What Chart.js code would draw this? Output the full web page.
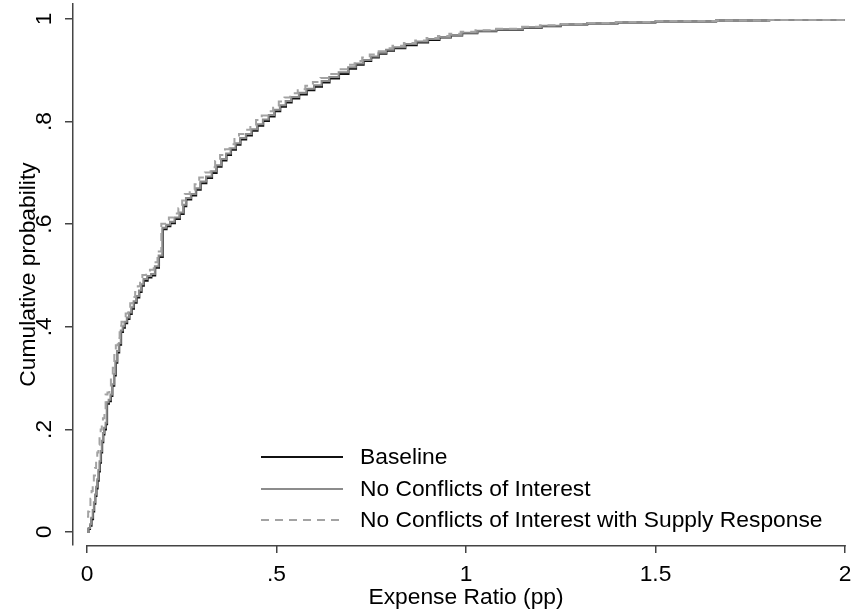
<!DOCTYPE html>
<html><head><meta charset="utf-8">
<script src="https://cdn.jsdelivr.net/npm/chart.js@4.4.1/dist/chart.umd.min.js"></script>
<style>html,body{margin:0;padding:0;background:#fff}canvas{display:block}</style>
</head><body>
<canvas id="c" width="855" height="611"></canvas>
<script>
const seriesLabels = ["Baseline", "No Conflicts of Interest", "No Conflicts of Interest with Supply Response"];
const xTicks = [0, 0.5, 1, 1.5, 2];
const yTicks = [0, 0.2, 0.4, 0.6, 0.8, 1];

const baselineX = [0,0.004,0.008,0.012,0.016,0.019,0.022,0.025,0.028,0.031,0.034,0.037,0.04,0.043,0.046,0.05,0.053,0.058,0.063,0.067,0.072,0.076,0.08,0.085,0.09,0.095,0.1,0.106,0.112,0.118,0.124,0.131,0.138,0.144,0.15,0.16,0.17,0.18,0.19,0.2,0.21,0.22,0.232,0.245,0.255,0.262,0.275,0.288,0.3,0.315,0.33,0.342,0.355,0.368,0.38,0.393,0.405,0.42,0.435,0.45,0.465,0.48,0.495,0.51,0.525,0.54,0.56,0.58,0.6,0.62,0.64,0.665,0.69,0.71,0.73,0.75,0.77,0.79,0.81,0.84,0.87,0.9,0.93,0.96,0.99,1.03,1.08,1.15,1.2,1.25,1.32,1.4,1.5,1.66,1.8,2.0];
const baselineY = [0,0.006,0.012,0.025,0.04,0.055,0.07,0.085,0.1,0.118,0.135,0.155,0.175,0.19,0.2,0.21,0.25,0.255,0.265,0.285,0.305,0.33,0.35,0.365,0.39,0.398,0.407,0.415,0.425,0.435,0.447,0.457,0.468,0.48,0.49,0.496,0.5,0.515,0.536,0.59,0.596,0.602,0.61,0.62,0.635,0.648,0.656,0.667,0.68,0.69,0.7,0.712,0.724,0.735,0.745,0.755,0.765,0.773,0.782,0.792,0.801,0.81,0.82,0.829,0.837,0.845,0.853,0.861,0.868,0.876,0.884,0.893,0.903,0.911,0.918,0.925,0.932,0.938,0.943,0.949,0.954,0.959,0.964,0.968,0.972,0.976,0.979,0.983,0.986,0.989,0.991,0.993,0.995,0.997,0.998,1.0];

const noConflictX = [0,0.004,0.008,0.011,0.015,0.018,0.021,0.024,0.027,0.03,0.033,0.036,0.039,0.042,0.045,0.049,0.052,0.057,0.062,0.066,0.071,0.075,0.079,0.084,0.089,0.094,0.099,0.105,0.111,0.117,0.123,0.13,0.137,0.143,0.149,0.159,0.169,0.179,0.189,0.199,0.209,0.219,0.231,0.244,0.254,0.261,0.274,0.287,0.299,0.314,0.329,0.341,0.354,0.367,0.379,0.392,0.404,0.419,0.434,0.449,0.464,0.479,0.494,0.509,0.524,0.539,0.559,0.579,0.599,0.619,0.639,0.664,0.689,0.709,0.729,0.749,0.769,0.789,0.809,0.839,0.869,0.899,0.929,0.959,0.989,1.03,1.08,1.15,1.2,1.25,1.32,1.4,1.5,1.66,1.8,2.0];
const noConflictY = [0,0.008,0.015,0.028,0.043,0.058,0.073,0.088,0.103,0.121,0.138,0.158,0.178,0.193,0.203,0.213,0.253,0.258,0.268,0.288,0.308,0.333,0.353,0.368,0.393,0.401,0.41,0.418,0.428,0.438,0.45,0.46,0.471,0.483,0.493,0.499,0.503,0.518,0.539,0.593,0.599,0.605,0.613,0.623,0.638,0.651,0.659,0.67,0.683,0.693,0.703,0.715,0.727,0.738,0.748,0.758,0.768,0.776,0.785,0.795,0.804,0.813,0.823,0.832,0.84,0.848,0.856,0.864,0.871,0.879,0.887,0.896,0.906,0.913,0.92,0.927,0.934,0.94,0.945,0.951,0.956,0.961,0.965,0.969,0.973,0.977,0.98,0.984,0.987,0.99,0.992,0.994,0.995,0.997,0.998,1.0];

const supplyX = [0,0.003,0.006,0.009,0.012,0.015,0.018,0.021,0.024,0.027,0.03,0.033,0.036,0.039,0.042,0.046,0.049,0.054,0.059,0.063,0.068,0.072,0.076,0.081,0.086,0.091,0.096,0.102,0.108,0.114,0.12,0.127,0.134,0.14,0.146,0.156,0.166,0.176,0.186,0.196,0.206,0.216,0.228,0.241,0.251,0.258,0.271,0.284,0.296,0.311,0.326,0.338,0.351,0.364,0.376,0.389,0.401,0.416,0.431,0.446,0.461,0.476,0.491,0.506,0.521,0.536,0.556,0.576,0.596,0.616,0.636,0.661,0.686,0.706,0.726,0.746,0.766,0.786,0.806,0.836,0.866,0.896,0.926,0.956,0.986,1.025,1.075,1.145,1.195,1.245,1.315,1.395,1.495,1.66,1.8,2.0];
const supplyY = [0.03,0.04,0.05,0.065,0.08,0.095,0.11,0.125,0.14,0.155,0.17,0.185,0.2,0.212,0.222,0.232,0.268,0.272,0.282,0.3,0.32,0.345,0.364,0.378,0.402,0.41,0.418,0.426,0.436,0.446,0.458,0.468,0.479,0.491,0.501,0.507,0.511,0.526,0.547,0.601,0.607,0.613,0.621,0.631,0.646,0.659,0.667,0.678,0.691,0.701,0.711,0.723,0.735,0.746,0.756,0.766,0.776,0.784,0.793,0.803,0.812,0.82,0.83,0.839,0.847,0.855,0.863,0.87,0.877,0.885,0.893,0.902,0.911,0.918,0.925,0.931,0.937,0.943,0.948,0.953,0.958,0.963,0.967,0.971,0.975,0.978,0.981,0.985,0.988,0.99,0.992,0.994,0.996,0.997,0.998,1.0];

const toPts = (xs, ys) => xs.map((x, i) => ({x: x, y: ys[i]}));
const FONT = "'Liberation Sans', Arial, Helvetica, sans-serif";
const FSIZE = 22.8;
const AXIS_COLOR = '#444';

function fmt(v) {
  if (v === 0) return '0';
  const s = String(+v.toFixed(2));
  return s.startsWith('0.') ? s.slice(1) : s;
}

const stataLegend = {
  id: 'stataLegend',
  afterDraw(chart) {
    const ctx = chart.ctx;
    const rows = [457, 489, 520];
    chart.data.datasets.forEach((ds, i) => {
      ctx.save();
      ctx.strokeStyle = ds.borderColor;
      ctx.lineWidth = ds.borderWidth;
      ctx.setLineDash(ds.borderDash || []);
      ctx.beginPath();
      ctx.moveTo(261, rows[i]);
      ctx.lineTo(343, rows[i]);
      ctx.stroke();
      ctx.setLineDash([]);
      ctx.fillStyle = '#000';
      ctx.font = FSIZE + 'px ' + FONT;
      ctx.textBaseline = 'middle';
      ctx.textAlign = 'left';
      ctx.fillText(ds.label, 360, rows[i] + 1);
      ctx.restore();
    });
  }
};

const xAxisLine = {
  id: 'xAxisLine',
  afterLayout(chart) {
    // centre the x-axis title on the 0..2 axis span
    const xs = chart.scales.x;
    xs.left = xs.getPixelForValue(xTicks[0]);
  },
  afterDraw(chart) {
    const xs = chart.scales.x, ca = chart.chartArea, ctx = chart.ctx;
    ctx.save();
    ctx.strokeStyle = AXIS_COLOR;
    ctx.lineWidth = 1.5;
    ctx.beginPath();
    ctx.moveTo(xs.getPixelForValue(xTicks[0]) - 0.75, ca.bottom + 0.75);
    ctx.lineTo(xs.getPixelForValue(xTicks[xTicks.length - 1]) + 0.75, ca.bottom + 0.75);
    ctx.stroke();
    ctx.restore();
  }
};

new Chart(document.getElementById('c'), {
  type: 'line',
  data: {
    datasets: [
      {label: seriesLabels[0], data: toPts(baselineX, baselineY), borderColor: '#111', borderWidth: 2, stepped: 'before', pointRadius: 0, order: 3},
      {label: seriesLabels[1], data: toPts(noConflictX, noConflictY), borderColor: '#8c8c8c', borderWidth: 2, stepped: 'before', pointRadius: 0, order: 2},
      {label: seriesLabels[2], data: toPts(supplyX, supplyY), borderColor: '#a3a3a3', borderWidth: 2, borderDash: [8, 6], stepped: 'before', pointRadius: 0, order: 1}
    ]
  },
  options: {
    responsive: false,
    animation: false,
    layout: {padding: {left: 0, top: 4, right: 10, bottom: 0}},
    plugins: {legend: {display: false}, tooltip: {enabled: false}},
    scales: {
      x: {
        type: 'linear', min: -0.037, max: 2,
        afterBuildTicks: s => { s.ticks = xTicks.map(v => ({value: v})); },
        afterFit: s => { s.height = 66; s.paddingLeft = 0; s.paddingRight = 0; },
        border: {display: false},
        grid: {drawOnChartArea: false, drawTicks: true, tickLength: 8, color: AXIS_COLOR, lineWidth: 1.5},
        ticks: {color: '#000', font: {family: FONT, size: FSIZE}, padding: 8, maxRotation: 0, minRotation: 0, autoSkip: false, callback: v => fmt(v)},
        title: {display: true, text: 'Expense Ratio (pp)', color: '#000', font: {family: FONT, size: FSIZE}, padding: {top: 0, bottom: 0}}
      },
      y: {
        type: 'linear', min: -0.0253, max: 1.0292,
        afterBuildTicks: s => { s.ticks = yTicks.map(v => ({value: v})); },
        afterFit: s => { s.width = 73; s.paddingTop = 0; s.paddingBottom = 0; },
        border: {display: true, color: AXIS_COLOR, width: 1.5},
        grid: {drawOnChartArea: false, drawTicks: true, tickLength: 8, color: AXIS_COLOR, lineWidth: 1.5},
        ticks: {color: '#000', font: {family: FONT, size: FSIZE}, padding: 11, minRotation: 90, maxRotation: 90, crossAlign: 'center', autoSkip: false, callback: v => fmt(v)},
        title: {display: true, text: 'Cumulative probability', color: '#000', font: {family: FONT, size: FSIZE}, padding: {top: 15, bottom: 0}}
      }
    }
  },
  plugins: [stataLegend, xAxisLine]
});
</script>
</body></html>
